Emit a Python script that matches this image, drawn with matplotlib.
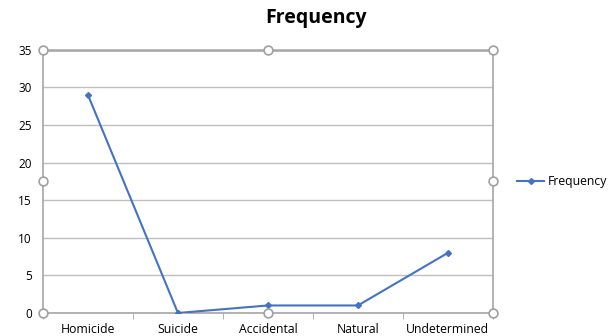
import matplotlib.pyplot as plt
import numpy as np

plt.rcParams['font.family'] = ['Open Sans', 'DejaVu Sans']

categories = ['Homicide', 'Suicide', 'Accidental', 'Natural', 'Undetermined']
frequency = [29, 0, 1, 1, 8]
y_ticks = [0, 5, 10, 15, 20, 25, 30, 35]

fig = plt.figure(figsize=(6.13, 3.36), dpi=100)
ax = fig.add_axes([0.0701, 0.0685, 0.734, 0.783])

x = np.arange(len(categories))
ax.plot(x, frequency, color='#4472C4', lw=1.5, marker='D', ms=3,
        label='Frequency', zorder=3)

ax.set_xlim(-0.5, len(categories) - 0.5)
ax.set_ylim(0, 35)
ax.set_yticks(y_ticks)
ax.set_xticks(x)
ax.set_xticklabels(categories, fontsize=8.8)
ax.set_xticks(np.arange(-0.5, len(categories)), minor=True)
ax.tick_params(axis='x', which='major', length=0, pad=7)
ax.tick_params(axis='x', which='minor', length=4, color='#a6a6a6', direction='out')
ax.tick_params(axis='y', length=0, labelsize=8.5, pad=8)

ax.yaxis.grid(True, color='#bfbfbf', lw=1)
ax.set_axisbelow(True)
for side, sp in ax.spines.items():
    sp.set_color('#a6a6a6')
    sp.set_linewidth(1.2)
ax.spines['top'].set_linewidth(1.8)

# selection handles around the plot area
hx = [-0.5, 2, 4.5, -0.5, 4.5, -0.5, 2, 4.5]
hy = [35, 35, 35, 17.5, 17.5, 0, 0, 0]
ax.scatter(hx, hy, s=40, facecolor='white', edgecolor='#a0a0a0', lw=1.2,
           zorder=5, clip_on=False)

fig.text(0.515, 0.945, 'Frequency', ha='center', va='center',
         fontsize=14, fontweight='bold')

ax.legend(loc='center left', bbox_to_anchor=(1.03, 0.5), frameon=False,
          fontsize=8.8, handlelength=2.2, handletextpad=0.3)

fig.savefig('out.png', dpi=100)
